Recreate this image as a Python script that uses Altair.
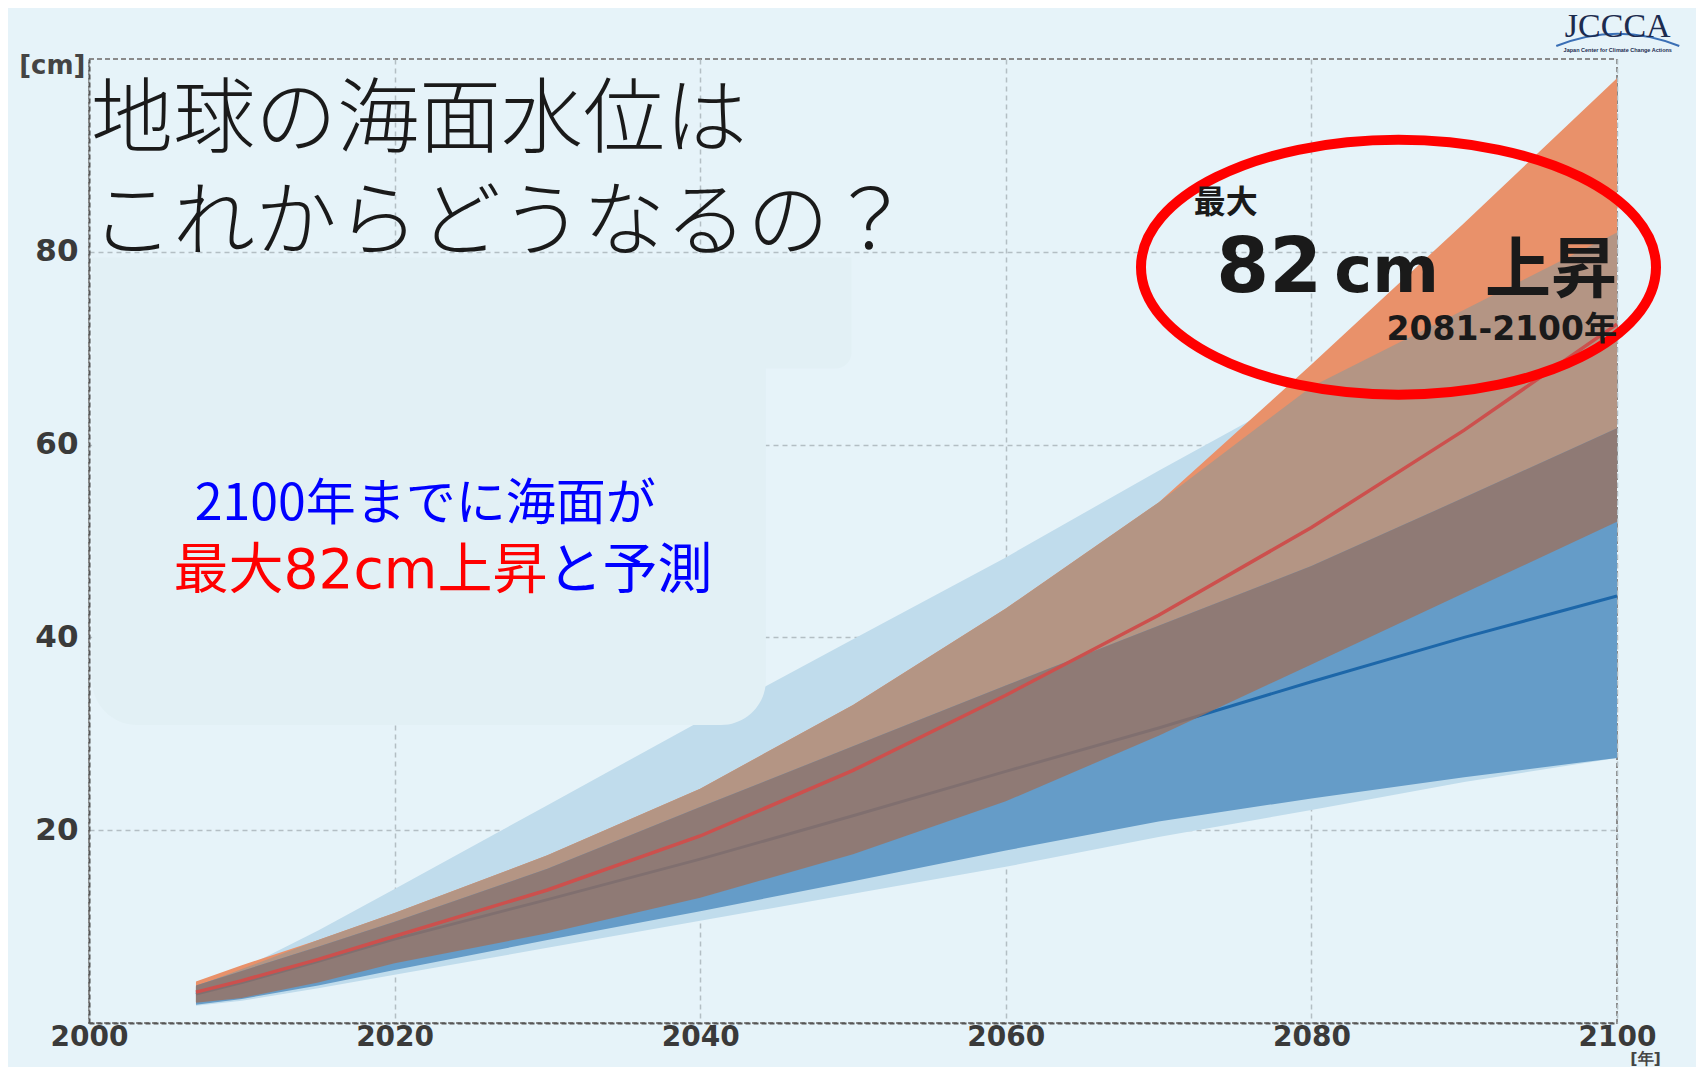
import altair as alt
import pandas as pd

# ---- data (cm of sea level rise) ----
years = [2007, 2010, 2015, 2020, 2030, 2040, 2050, 2060, 2070, 2080, 2090, 2100]
rcp85_median = [3.2, 4.4, 6.6, 9.0, 13.8, 19.4, 26.2, 34.0, 42.3, 51.4, 61.5, 72.5]
rcp85_high = [4.3, 6.0, 8.6, 11.4, 17.4, 24.3, 33.0, 43.0, 54.0, 68.3, 83.0, 98.0]
rcp85_low = [2.1, 2.6, 4.2, 6.2, 9.3, 13.0, 17.5, 23.0, 29.8, 37.2, 44.6, 52.0]
rcp26_median = [3.0, 4.2, 6.4, 8.7, 12.8, 17.0, 21.5, 26.1, 30.6, 35.4, 40.0, 44.3]
rcp26_high = [3.9, 5.4, 7.9, 10.5, 16.0, 22.4, 28.7, 35.0, 41.2, 47.4, 54.5, 61.7]
rcp26_low = [1.9, 2.5, 3.9, 5.5, 8.6, 11.6, 14.7, 17.9, 20.9, 23.3, 25.5, 27.5]
wide_high = [3.8, 5.6, 9.6, 13.9, 22.6, 31.3, 39.8, 48.3, 57.3, 66.0, 74.0, 82.0]
wide_low = [1.8, 2.3, 3.6, 5.0, 7.8, 10.6, 13.4, 16.2, 19.3, 22.1, 25.0, 27.5]

x_ticks = [2000, 2020, 2040, 2060, 2080, 2100]
y_ticks = [20, 40, 60, 80]

title_lines = ["地球の海面水位は", "これからどうなるの？"]
title_y = [93.6, 82.9]
note_line1 = "2100年までに海面が"
note_line2_red = "最大82cm上昇"
note_line2_blue = "と予測"
big_small = "最大"
big_num = "82"
big_unit = "cm"
big_word = "上昇"
big_period = "2081-2100年"
logo_text = "JCCCA"
logo_sub = "Japan Center for Climate Change Actions"

# ---- colours ----
BG = "#e6f3f9"
BOX = "#e2f0f5"
C_WIDE = "#c0dcec"
C_ORANGE = "#e9916a"
C_LBROWN = "#b49584"
C_BLUE = "#659cc8"
C_TAUPE = "#9a7260"
C_RED_LINE = "#cc504d"
C_BLUE_LINE = "#1d67a9"

df = pd.DataFrame({
    "year": years,
    "rcp85_median": rcp85_median, "rcp85_high": rcp85_high, "rcp85_low": rcp85_low,
    "rcp26_median": rcp26_median, "rcp26_high": rcp26_high, "rcp26_low": rcp26_low,
    "wide_high": wide_high, "wide_low": wide_low,
})

xscale = alt.Scale(domain=[2000, 2100], nice=False, zero=False)
yscale = alt.Scale(domain=[0, 100], nice=False)

xaxis = alt.Axis(
    values=x_ticks, format="d", title="[年]", titleX=1556, titleY=35,
    titleAlign="center", titleBaseline="middle", titleFont="DejaVu Sans",
    titleFontSize=16, titleFontWeight="bold", titleColor="#444444",
    labelFont="DejaVu Sans", labelFontWeight="bold", labelFontSize=28,
    labelColor="#3a3a3a", labelPadding=0, labelFlush=False, labelOverlap=False,
    ticks=False, domainColor="#555555", domainDash=[5, 3], domainWidth=2,
    grid=True, gridColor="#b3bec4", gridDash=[5, 4], gridWidth=1.5,
)
yaxis = alt.Axis(
    values=y_ticks, title="[cm]", titleAngle=0, titleX=-4, titleY=6,
    titleAlign="right", titleBaseline="middle", titleFont="DejaVu Sans",
    titleFontSize=26, titleFontWeight="bold", titleColor="#444444",
    labelFont="DejaVu Sans", labelFontWeight="bold", labelFontSize=31,
    labelColor="#3a3a3a", labelPadding=11,
    ticks=False, domainColor="#555555", domainDash=[5, 3], domainWidth=2,
    grid=True, gridColor="#b3bec4", gridDash=[5, 4], gridWidth=1.5,
)


def X(field):
    return alt.X(field, type="quantitative", scale=xscale, axis=xaxis)


def Y(field):
    return alt.Y(field, type="quantitative", scale=yscale, axis=yaxis)


base = alt.Chart(df)

wide = base.mark_area(color=C_WIDE).encode(x=X("year"), y=Y("wide_low"), y2="wide_high:Q")
orange = base.mark_area(color=C_ORANGE).encode(x=X("year"), y=Y("rcp85_low"), y2="rcp85_high:Q")
lbrown = base.transform_calculate(
    top="min(datum.rcp85_high, datum.wide_high)"
).mark_area(color=C_LBROWN).encode(x=X("year"), y=Y("rcp85_low"), y2="top:Q")
blue = base.mark_area(color=C_BLUE).encode(x=X("year"), y=Y("rcp26_low"), y2="rcp26_high:Q")
blue_line = base.mark_line(color=C_BLUE_LINE, strokeWidth=3).encode(x=X("year"), y=Y("rcp26_median"))
taupe = base.transform_calculate(
    lo="max(datum.rcp85_low, datum.rcp26_low)",
    hi="min(datum.rcp85_high, datum.rcp26_high)",
).mark_area(color=C_TAUPE, opacity=0.8).encode(x=X("year"), y=Y("lo"), y2="hi:Q")
red_line = base.mark_line(color=C_RED_LINE, strokeWidth=3.5).encode(x=X("year"), y=Y("rcp85_median"))

# ---- cover boxes (hide old legend) ----
box1 = alt.Chart(pd.DataFrame({"x": [2000.2], "x2": [2049.9], "y": [79.4], "y2": [67.9]})).mark_rect(
    color=BOX, cornerRadiusBottomRight=16
).encode(x=X("x"), x2="x2:Q", y=Y("y"), y2="y2:Q")
box2 = alt.Chart(pd.DataFrame({"x": [2000.2], "x2": [2044.3], "y": [68.2], "y2": [30.9]})).mark_rect(
    color=BOX, cornerRadiusBottomRight=45, cornerRadiusBottomLeft=45
).encode(x=X("x"), x2="x2:Q", y=Y("y"), y2="y2:Q")


def text_layer(txt, x, y, **kw):
    d = pd.DataFrame({"x": [x], "y": [y], "t": [txt]})
    return alt.Chart(d).mark_text(**kw).encode(x=X("x"), y=Y("y"), text="t:N")


title = alt.Chart(pd.DataFrame({"x": [2000.0, 2000.0], "y": title_y, "t": title_lines})).mark_text(
    font="Noto Sans CJK JP", fontWeight=300, fontSize=82, color="#1a1a1a",
    align="left", baseline="middle", dx=2
).encode(x=X("x"), y=Y("y"), text="t:N")

note1 = text_layer(note_line1, 2022.0, 53.7, font="Noto Sans CJK JP", fontSize=50,
                   color="#0000ff", align="center", baseline="middle")
note2r = text_layer(note_line2_red, 2030.0, 46.9, font="DejaVu Sans, Noto Sans CJK JP", fontSize=55,
                    color="#ff0000", align="right", baseline="middle")
note2b = text_layer(note_line2_blue, 2030.0, 46.9, font="Noto Sans CJK JP", fontSize=55,
                    color="#0000ff", align="left", baseline="middle")

t_small = text_layer(big_small, 2072.3, 84.0, font="Noto Sans CJK JP", fontSize=32,
                     fontWeight="bold", color="#1a1a1a", align="left", baseline="alphabetic")
t_num = text_layer(big_num, 2080.7, 75.8, font="DejaVu Sans", fontSize=76,
                   fontWeight="bold", color="#1a1a1a", align="right", baseline="alphabetic")
t_unit = text_layer(big_unit, 2081.5, 75.8, font="DejaVu Sans", fontSize=64,
                    fontWeight="bold", color="#1a1a1a", align="left", baseline="alphabetic")
t_word = text_layer(big_word, 2100.0, 75.8, font="Noto Sans CJK JP", fontSize=66,
                    fontWeight="bold", color="#1a1a1a", align="right", baseline="alphabetic")
t_period = text_layer(big_period, 2100.0, 70.9, font="DejaVu Sans, Noto Sans CJK JP", fontSize=33,
                      fontWeight="bold", color="#1a1a1a", align="right", baseline="alphabetic")

ELLIPSE = ("M -1 0 C -1 -0.2734 -0.5523 -0.495 0 -0.495 C 0.5523 -0.495 1 -0.2734 1 0 "
           "C 1 0.2734 0.5523 0.495 0 0.495 C -0.5523 0.495 -1 0.2734 -1 0 Z")
ellipse = alt.Chart(pd.DataFrame({"x": [2085.7], "y": [78.4]})).mark_point(
    shape=ELLIPSE, size=265225, filled=False, color="#ff0000", strokeWidth=10, opacity=1
).encode(x=X("x"), y=Y("y"))

ARC = "M -1 0.15 Q 0 -0.25 1 0.15"
logo_arc = alt.Chart(pd.DataFrame({"x": [2100.05], "y": [102.3]})).mark_point(
    shape=ARC, size=15129, filled=False, color="#3a6fb5", strokeWidth=2, opacity=1
).encode(x=X("x"), y=Y("y"))
logo = text_layer(logo_text, 2100.05, 103.3, font="Liberation Serif", fontSize=34,
                  color="#1c2b4f", align="center", baseline="middle")
logo2 = text_layer(logo_sub, 2100.05, 100.9, font="Liberation Sans", fontSize=5.5,
                   fontWeight="bold", color="#1c2b4f", align="center", baseline="middle")

chart = alt.layer(
    wide, orange, lbrown, blue, blue_line, taupe, red_line,
    box1, box2, title, note1, note2r, note2b,
    ellipse, t_small, t_num, t_unit, t_word, t_period,
    logo_arc, logo, logo2,
).properties(
    width=1528, height=964,
    autosize=alt.AutoSizeParams(type="none"),
    padding={"left": 81, "top": 51, "right": 79, "bottom": 44},
    background=BG,
).configure_view(
    stroke="#8a8a8a", strokeDash=[5, 3], strokeWidth=2
)

chart.save("out.html", embed_options={"renderer": "svg", "actions": False})
